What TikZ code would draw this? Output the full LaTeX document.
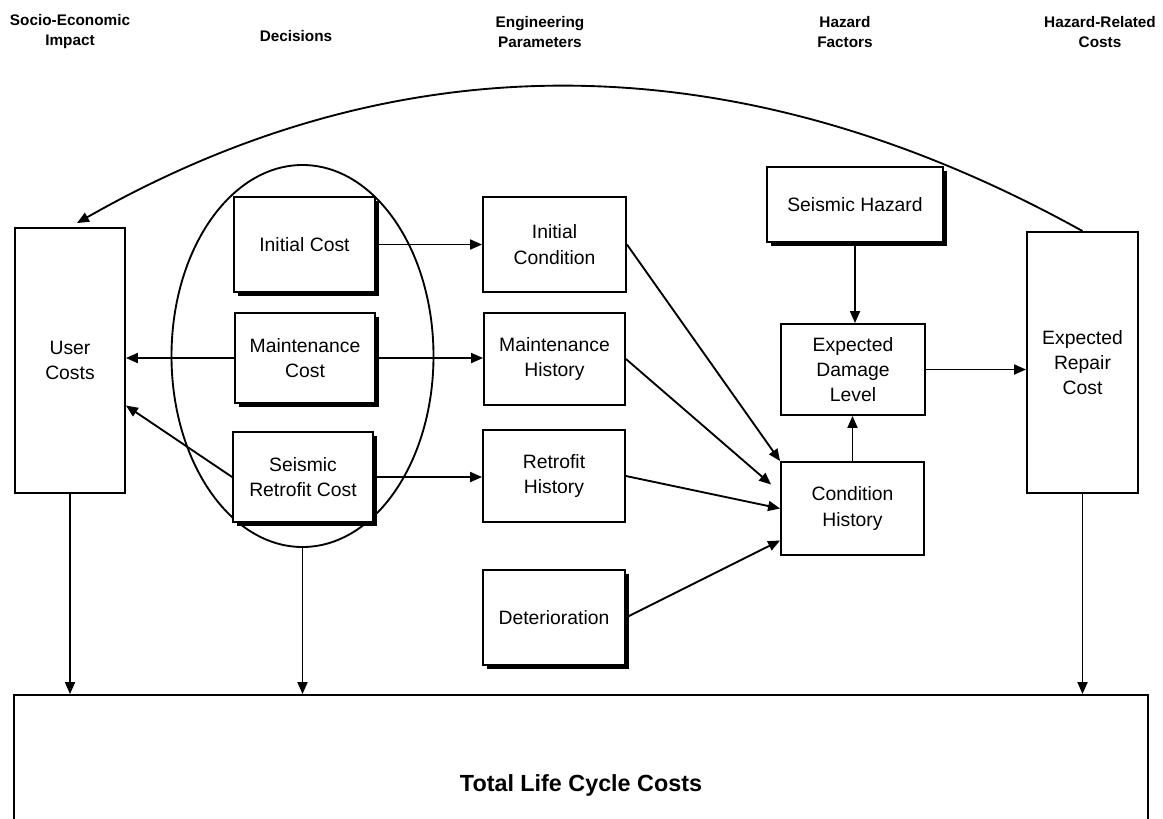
\documentclass[tikz,border=0pt]{standalone}
\usepackage{fontspec}
\setmainfont{Liberation Sans}
\usetikzlibrary{arrows.meta,shapes.geometric,shadows,calc}
\begin{document}
\begin{tikzpicture}[x=0.75pt,y=-0.75pt,
  box/.style={draw,line width=1.4pt,fill=white,align=center,inner sep=0pt,
    font=\fontsize{14.5}{19}\selectfont},
  shbox/.style={box,drop shadow={shadow xshift=3pt,shadow yshift=-3pt,fill=black,opacity=1}},
  head/.style={align=center,font=\bfseries\fontsize{11.5}{15}\selectfont},
  conn/.style={line width=1.4pt,-{Triangle[length=9pt,width=7.5pt]}},
  plain/.style={line width=1.4pt}]
\useasboundingbox (0,0) rectangle (1163,818);

% column headings
\node[head] (h1) at (70,32)  {Socio-Economic\\Impact};
\node[head] (h2) at (296,36) {Decisions};
\node[head] (h3) at (540,32) {Engineering\\Parameters};
\node[head] (h4) at (845,32) {Hazard\\Factors};
\node[head] (h5) at (1100,32) {Hazard-Related\\Costs};

% decisions grouped in an ellipse
\node[draw,plain,ellipse,minimum width=262*0.75pt,minimum height=382*0.75pt] (dec) at (302.5,356) {};

% boxes
\node[box,minimum width=110*0.75pt,minimum height=265*0.75pt] (uc) at (70,360.5) {User\\Costs};
\node[shbox,minimum width=141*0.75pt,minimum height=95*0.75pt] (icost) at (304.5,244.5) {Initial Cost};
\node[shbox,minimum width=140*0.75pt,minimum height=90*0.75pt] (mcost) at (305,358) {Maintenance\\Cost};
\node[shbox,minimum width=140*0.75pt,minimum height=90*0.75pt] (scost) at (303,477) {Seismic\\Retrofit Cost};
\node[box,minimum width=143*0.75pt,minimum height=95*0.75pt] (icond) at (554.5,244.5) {Initial\\Condition};
\node[box,minimum width=141*0.75pt,minimum height=92*0.75pt] (mhist) at (554.5,359) {Maintenance\\History};
\node[box,minimum width=142*0.75pt,minimum height=92*0.75pt] (rhist) at (554,476) {Retrofit\\History};
\node[shbox,minimum width=142*0.75pt,minimum height=95*0.75pt] (det) at (554,617.5) {Deterioration};
\node[shbox,minimum width=176*0.75pt,minimum height=75*0.75pt] (shaz) at (855,204.5) {Seismic Hazard};
\node[box,minimum width=144*0.75pt,minimum height=91*0.75pt] (edam) at (853,369.5) {Expected\\Damage\\Level};
\node[box,minimum width=143*0.75pt,minimum height=93*0.75pt] (chist) at (852.5,508.5) {Condition\\History};
\node[box,minimum width=111*0.75pt,minimum height=261*0.75pt] (erc) at (1082.5,362.5) {Expected\\Repair\\Cost};
\node[box,font=\bfseries\fontsize{17.5}{21}\selectfont,minimum width=1134*0.75pt,minimum height=180*0.75pt] (total) at (581,785) {Total Life Cycle Costs};

% connectors
\draw[conn] (icost.east) -- (icost.east -| icond.west);
\draw[conn] (mcost.east) -- (mcost.east -| mhist.west);
\draw[conn] (scost.east) -- (scost.east -| rhist.west);
\draw[conn] (mcost.west) -- (mcost.west -| uc.east);
\draw[conn] (scost.west) -- ($(uc.east)+(0,45)$);

\draw[conn] (icond.east) -- (chist.north west);
\draw[conn] (mhist.east) -- ($(chist.west)+(-9,-24)$);
\draw[conn] (rhist.east) -- (chist.west);
\draw[conn] (det.east) -- ($(chist.west)+(0,32)$);

\draw[conn] (chist.north) -- (chist.north |- edam.south);
\draw[conn] (shaz.south) -- (shaz.south |- edam.north);
\draw[conn] (edam.east) -- (edam.east -| erc.west);

\draw[conn] (uc.south) -- (uc.south |- total.north);
\draw[conn] (dec.south) -- (dec.south |- total.north);
\draw[conn] (erc.south) -- (erc.south |- total.north);

% feedback of hazard-related costs to user costs
\draw[conn] (erc.north) .. controls (738,40) and (400,39) .. ($(uc.north)+(7,-4)$);
\end{tikzpicture}
\end{document}
